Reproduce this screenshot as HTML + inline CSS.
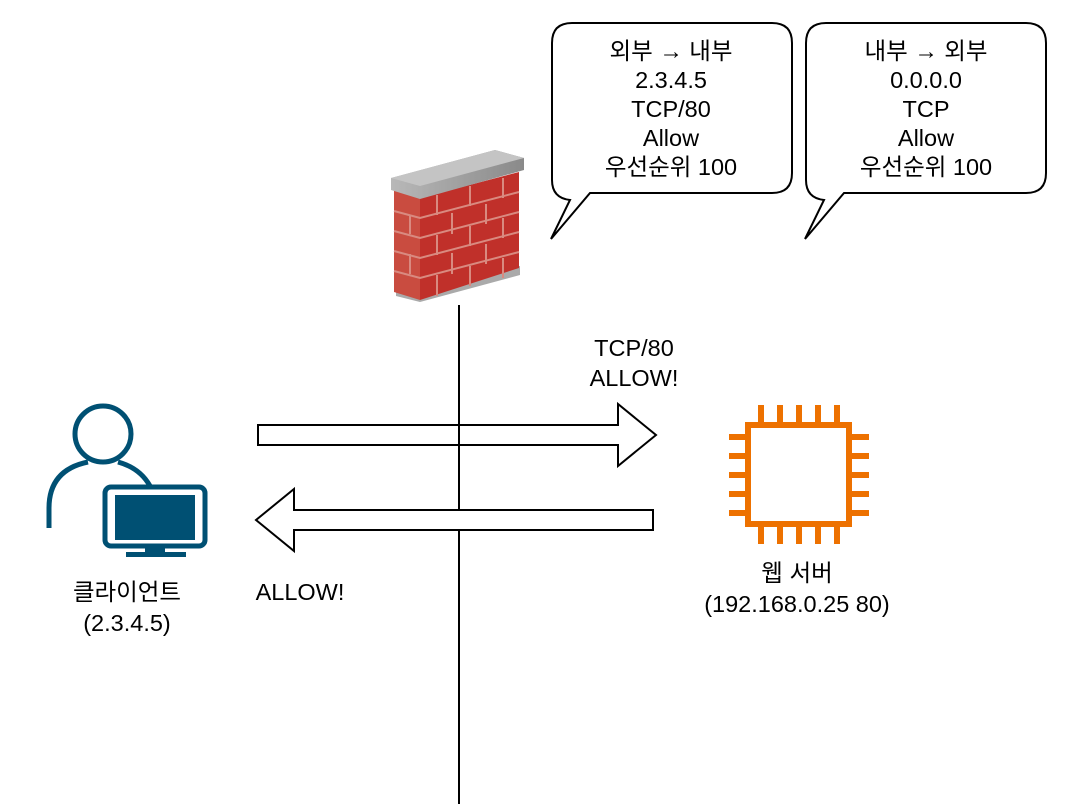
<!DOCTYPE html>
<html><head><meta charset="utf-8"><style>
body{margin:0;width:1077px;height:804px;background:#fff;overflow:hidden}
svg text{font-family:"Liberation Sans","Noto Sans CJK KR",sans-serif;font-size:23.5px;fill:#000;text-anchor:middle}
</style></head><body>
<svg width="1077" height="804" viewBox="0 0 1077 804" xmlns="http://www.w3.org/2000/svg">
<defs>
<linearGradient id="top" x1="0" x2="1"><stop offset="0" stop-color="#b8b8b8"/><stop offset="1" stop-color="#8a8a8a"/></linearGradient>
</defs>
<path d="M572,23 H772 Q792,23 792,43 V173 Q792,193 772,193 H590 L551,239 L570,200 Q552,198 552,180 V43 Q552,23 572,23 Z" fill="#fff" stroke="#000" stroke-width="2"/>
<path d="M826,23 H1026 Q1046,23 1046,43 V173 Q1046,193 1026,193 H844 L805,239 L824,200 Q806,198 806,180 V43 Q806,23 826,23 Z" fill="#fff" stroke="#000" stroke-width="2"/>
<g transform="translate(0,2)">
<text x="671" y="57">외부 → 내부</text>
<text x="671" y="86">2.3.4.5</text>
<text x="671" y="115">TCP/80</text>
<text x="671" y="144">Allow</text>
<text x="671" y="173">우선순위 100</text>
<text x="926" y="57">내부 → 외부</text>
<text x="926" y="86">0.0.0.0</text>
<text x="926" y="115">TCP</text>
<text x="926" y="144">Allow</text>
<text x="926" y="173">우선순위 100</text>
</g>
<polygon points="396,296 420,302 520,275 520,266 396,290" fill="#aaa"/>
<polygon points="394,190 420,198 420,300 394,292" fill="#c94c40"/>
<polygon points="420,198 519,172 519,268 420,300" fill="#c0302a"/>
<g stroke="#d98a80" stroke-width="2" fill="none">
<path d="M394,211 L420,218 L519,192 M394,231 L420,238 L519,212 M394,251 L420,258 L519,232 M394,271 L420,278 L519,252"/>
<path d="M437,195 V215 M470,186 V206 M503,178 V198 M452,213 V234 M486,204 V224 M437,235 V255 M470,226 V246 M503,218 V238 M452,253 V274 M486,244 V264 M437,275 V296 M470,266 V286 M503,258 V278 M410,215 V234 M410,254 V274"/>
</g>
<polygon points="391,178 495,150 524,158 524,170 420,199 391,190" fill="url(#top)"/>
<polygon points="391,178 495,150 524,158 420,186" fill="#c4c4c4"/>
<polygon points="258,425 618,425 618,404 656,435 618,466 618,445 258,445" fill="#fff" stroke="#000" stroke-width="2"/>
<line x1="459" y1="305" x2="459" y2="804" stroke="#000" stroke-width="2"/>
<polygon points="653,510 294,510 294,489 256,520 294,551 294,530 653,530" fill="#fff" stroke="#000" stroke-width="2"/>
<text x="634" y="356">TCP/80</text>
<text x="634" y="386">ALLOW!</text>
<text x="300" y="600">ALLOW!</text>
<g fill="none" stroke="#005073" stroke-width="5">
<circle cx="103" cy="434" r="28"/>
<path d="M49,528 V508 Q49,470 88,462 M118,462 Q140,468 150,486"/>
</g>
<rect x="105" y="487" width="100" height="59" rx="6" fill="#fff" stroke="#005073" stroke-width="5"/>
<rect x="115" y="495" width="80" height="45" fill="#005073"/>
<rect x="145" y="546" width="20" height="8" fill="#005073"/>
<rect x="126" y="552" width="60" height="5" fill="#005073"/>
<text x="127" y="600">클라이언트</text>
<text x="127" y="631">(2.3.4.5)</text>
<rect x="748" y="425" width="101" height="99" fill="none" stroke="#ED7100" stroke-width="6"/>
<g stroke="#ED7100" stroke-width="6">
<path d="M761,405V422M780,405V422M799,405V422M818,405V422M837,405V422"/>
<path d="M761,527V544M780,527V544M799,527V544M818,527V544M837,527V544"/>
<path d="M729,437H745M729,456H745M729,475H745M729,494H745M729,513H745"/>
<path d="M852,437H869M852,456H869M852,475H869M852,494H869M852,513H869"/>
</g>
<text x="797" y="581">웹 서버</text>
<text x="797" y="612">(192.168.0.25 80)</text>
</svg>
</body></html>
